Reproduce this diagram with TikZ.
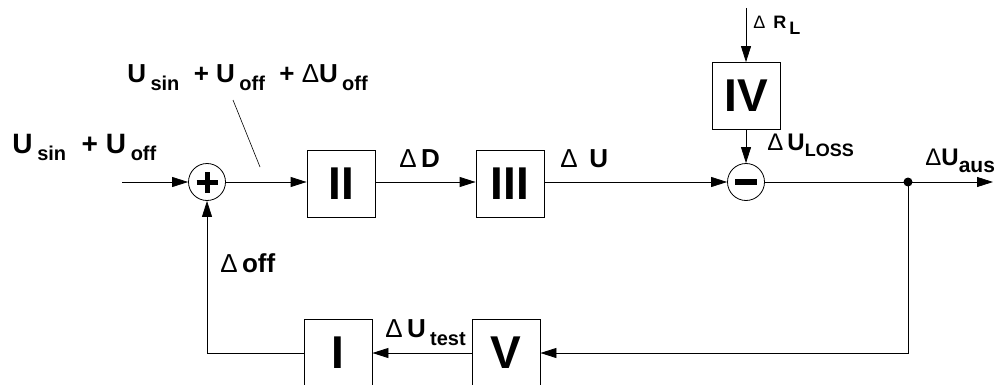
\documentclass[tikz,border=0pt]{standalone}
\usepackage{fontspec}
\setmainfont{Liberation Sans}
\usetikzlibrary{arrows.meta}

\newcommand{\lo}[2][-8pt]{\raisebox{#1}{\fontsize{20}{20}\selectfont #2}}
\newcommand{\dl}{{\mdseries Δ}}

\begin{document}
\begin{tikzpicture}[x=1pt,y=-1pt,line width=0.8pt,
        block/.style={rectangle, draw, fill=white, minimum width=68pt, minimum height=67pt, inner sep=0pt, font=\fontsize{46}{46}\selectfont\bfseries},
        summer/.style={circle, draw, fill=white, minimum size=37pt, inner sep=0pt},
        sign/.style={line width=5pt},
        sig/.style={inner sep=0pt, anchor=base west, font=\fontsize{26}{26}\selectfont\bfseries},
        >={Triangle[length=16pt,width=10pt]}
    ]
        \useasboundingbox (0,0) rectangle (1003,385);

        % Forward path
        \coordinate (in) at (122,182);
        \node[summer] (sum) at (207,182) {};
        \node[block] (II) at (341,184) {II};
        \node[block] (III) at (510,184) {III};
        \node[summer] (diff) at (746,182) {};
        \node[block] (IV) at (746,96) {IV};
        \coordinate (rl) at (746,8);
        \fill (908,182) circle (4.5pt) coordinate (dot);
        \coordinate (out) at (993,182);

        % Plus and minus signs
        \draw[sign] ([xshift=-10.5pt]sum.center) -- ([xshift=10.5pt]sum.center);
        \draw[sign] ([yshift=-10.5pt]sum.center) -- ([yshift=10.5pt]sum.center);
        \draw[line width=6pt] ([xshift=-11pt]diff.center) -- ([xshift=11pt]diff.center);

        % Feedback path
        \node[block] (V) at (506,353) {V};
        \node[block] (I) at (338,353) {I};

        % Connectors
        \draw[->] (in) -- (sum);
        \draw[->] (sum) -- (II.west |- sum);
        \draw[->] (II.east |- sum) -- (III.west |- sum);
        \draw[->] (III.east |- sum) -- (diff);
        \draw[->] (rl) -- (IV);
        \draw[->] (IV) -- (diff);
        \draw (diff) -- (dot);
        \draw[->] (dot) -- (out);
        \draw[->] (dot) |- (V);
        \draw[->] (V) -- (I);
        \draw[->] (I) -| (sum);

        % Signal labels
        \node[sig, font=\fontsize{28}{28}\selectfont\bfseries] (lin) at (12,153) {U\,\lo{sin}\; + U\,\lo{off}};
        \node[sig] (ltop) at (127,83) {U\,\lo{sin}\; + U\,\lo{off}\; + \dl U\,\lo{off}};
        \coordinate (ptr) at (233,100);
        \coordinate (tap) at (260,167);
        \draw[line width=0.6pt] (ptr) -- (tap);
        \node[sig] (ld) at (399,167) {\dl\,D};
        \node[sig] (lu) at (560,167) {\dl\;\,U};
        \node[sig, font=\fontsize{18}{18}\selectfont\bfseries] (lrl) at (753,29) {\dl\, R\,\lo[-6pt]{\fontsize{18}{18}\selectfont L}};
        \node[sig, font=\fontsize{24}{24}\selectfont\bfseries] (lloss) at (767,150) {\dl\,U\lo[-6pt]{\fontsize{18}{18}\selectfont LOSS}};
        \node[sig, font=\fontsize{24}{24}\selectfont\bfseries] (laus) at (925,165) {\dl U\lo[-7pt]{\fontsize{21}{21}\selectfont aus}};
        \node[sig] (ltest) at (385,337) {\dl\,U\,\lo{test}};
        \node[sig] (loff) at (220,272) {\dl\,off};

    \end{tikzpicture}
\end{document}
